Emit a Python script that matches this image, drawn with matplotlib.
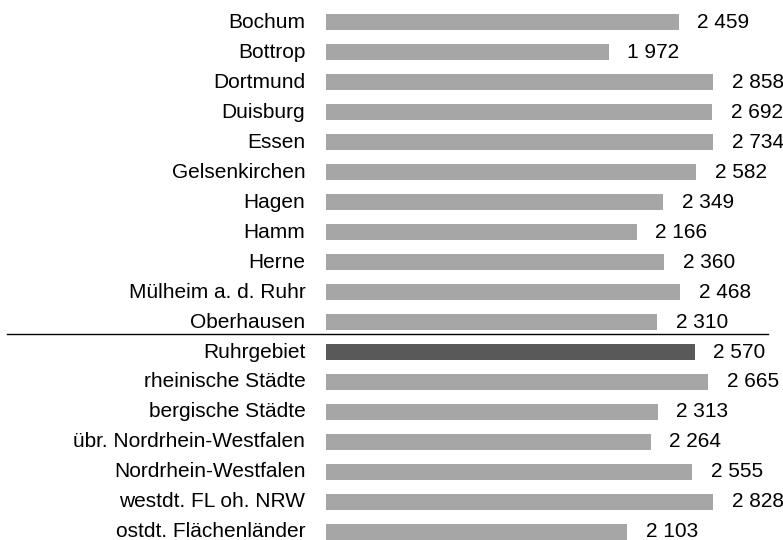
import matplotlib
matplotlib.use('Agg')
import matplotlib.pyplot as plt
import matplotlib.transforms as mtransforms
from matplotlib.lines import Line2D

plt.rcParams['font.family'] = ['Liberation Sans', 'DejaVu Sans']

staedte = ['Bochum', 'Bottrop', 'Dortmund', 'Duisburg', 'Essen', 'Gelsenkirchen',
           'Hagen', 'Hamm', 'Herne', 'Mülheim a. d. Ruhr', 'Oberhausen',
           'Ruhrgebiet', 'rheinische Städte', 'bergische Städte',
           'übr. Nordrhein-Westfalen', 'Nordrhein-Westfalen',
           'westdt. FL oh. NRW', 'ostdt. Flächenländer']
werte = [2459, 1972, 2858, 2692, 2734, 2582, 2349, 2166, 2360, 2468, 2310,
         2570, 2665, 2313, 2264, 2555, 2828, 2103]
hervor = 'Ruhrgebiet'
xmax = 2700  # Achse endet hier, längere Balken werden abgeschnitten

fig = plt.figure(figsize=(7.83, 5.4), dpi=100)
ax = fig.add_axes([325.5 / 783, 0, 387.7 / 783, 1])

y = list(range(len(staedte)))
farben = ['#595959' if s == hervor else '#a6a6a6' for s in staedte]
ax.barh(y, werte, height=0.52, color=farben)

for i, (s, v) in enumerate(zip(staedte, werte)):
    ax.annotate(s, (0, i), xytext=(-14.5, 0), textcoords='offset points',
                ha='right', va='center', fontsize=15, annotation_clip=False)
    ax.annotate(f'{v:,}'.replace(',', ' '), (min(v, xmax), i), xytext=(13.5, 0),
                textcoords='offset points', ha='left', va='center', fontsize=15,
                annotation_clip=False)

ax.set_xlim(0, xmax)
ax.set_ylim(17.27, -0.74)
ax.axis('off')

# Trennlinie zwischen Städten und Regionen
trans = mtransforms.blended_transform_factory(fig.transFigure, ax.transData)
fig.add_artist(Line2D([7 / 783, 768 / 783], [10.4, 10.4], transform=trans,
                      color='black', lw=1))

fig.savefig('out.png', dpi=100)
